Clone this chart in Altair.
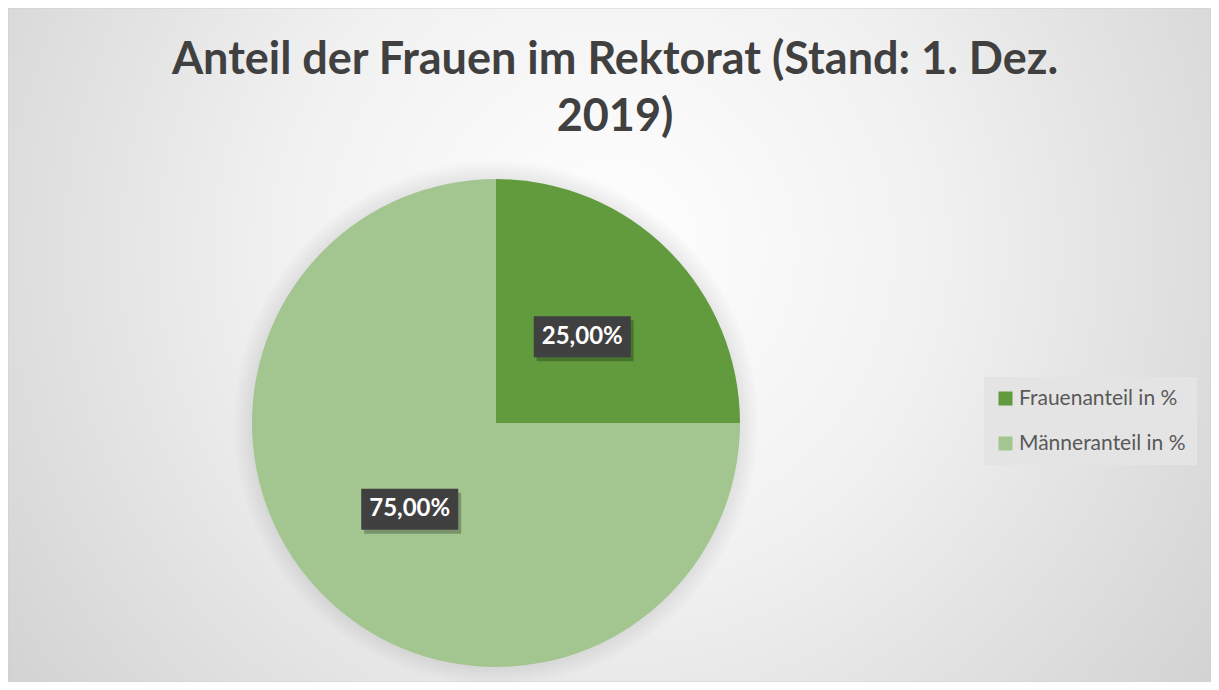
import altair as alt
import pandas as pd

# ---- data ----
categories = ["Frauenanteil in %", "Männeranteil in %"]
values = [25.0, 75.0]
labels = ["25,00%", "75,00%"]
order = [0, 1]
title_lines = ["Anteil der Frauen im Rektorat (Stand: 1. Dez.", "2019)"]
colors = ["#629B3E", "#A3C58F"]

df = pd.DataFrame({"cat": categories, "value": values, "label": labels, "order": order})

W, H = 1203, 674
CX, CY, R = 488, 415, 244
LR = 122
FONT = "Lato"

bg = alt.Chart(alt.Data(values=[{"a": 1}])).mark_rect(
    fill={
        "gradient": "radial",
        "x1": 0.5, "y1": 0.42, "r1": 0.0,
        "x2": 0.5, "y2": 0.42, "r2": 0.78,
        "stops": [
            {"offset": 0.0, "color": "#ffffff"},
            {"offset": 0.35, "color": "#f1f1f1"},
            {"offset": 1.0, "color": "#c4c4c4"},
        ],
    },
    stroke="#d0d0d0",
    strokeWidth=1,
).encode(x=alt.value(0), x2=alt.value(W), y=alt.value(0), y2=alt.value(H))

base = alt.Chart(df)

halo_layers = []
for dr in [3, 6, 9, 12, 15, 18]:
    halo_layers.append(
        base.mark_arc(radius=R + dr, color="#000000", opacity=0.011, strokeWidth=0).encode(
            theta=alt.Theta("value:Q", stack=True),
            order=alt.Order("order:Q"),
            x=alt.value(CX), y=alt.value(CY),
        )
    )

pie = base.mark_arc(radius=R, strokeWidth=0).encode(
    theta=alt.Theta("value:Q", stack=True),
    order=alt.Order("order:Q"),
    color=alt.Color(
        "cat:N",
        scale=alt.Scale(domain=categories, range=colors),
        sort=categories,
        legend=alt.Legend(
            title=None,
            orient="none",
            legendX=976,
            legendY=369,
            fillColor="#e4e4e4",
            padding=11,
            symbolType="square",
            symbolSize=196,
            symbolStrokeWidth=0,
            labelFont=FONT,
            labelFontSize=21,
            labelLimit=400,
            labelColor="#595959",
            labelOffset=3,
            rowPadding=23,
        ),
    ),
    x=alt.value(CX), y=alt.value(CY),
)

lab = base.transform_joinaggregate(total="sum(value)").transform_window(
    cum="sum(value)", sort=[alt.SortField("order")], frame=[None, 0]
).transform_calculate(
    mid="(datum.cum - datum.value/2)/datum.total*2*PI",
).transform_calculate(
    lx=f"{CX} + {LR}*sin(datum.mid)",
    ly=f"{CY} - {LR}*cos(datum.mid)",
)

box_path = "M-1,-0.4227H1V0.4227H-1Z"
shadow_path = "M-0.94,-0.34H1.06V0.505H-0.94Z"

shadow = lab.mark_point(shape=shadow_path, size=9409, filled=True, color="#000000", opacity=0.25, strokeWidth=0).encode(
    x=alt.X("lx:Q", scale=None), y=alt.Y("ly:Q", scale=None)
)
box = lab.mark_point(shape=box_path, size=9409, filled=True, color="#404040", opacity=1, strokeWidth=0).encode(
    x=alt.X("lx:Q", scale=None), y=alt.Y("ly:Q", scale=None)
)
txt = lab.mark_text(font=FONT, fontSize=24, fontWeight="bold", color="#ffffff", baseline="middle", align="center").encode(
    x=alt.X("lx:Q", scale=None), y=alt.Y("ly:Q", scale=None), text="label:N"
)

title = alt.Chart(alt.Data(values=[{"a": 1}])).mark_text(
    font=FONT, fontSize=45, fontWeight="bold", color="#404040",
    align="center", baseline="alphabetic", lineHeight=57,
).encode(x=alt.value(607), y=alt.value(66), text=alt.value(title_lines))

chart = alt.layer(bg, *halo_layers, pie, shadow, box, txt, title).properties(
    width=W, height=H, padding=0, autosize=alt.AutoSizeParams(type="none"),
    background="#ffffff",
).configure_view(stroke=None)

chart.save("out.html", embed_options={"renderer": "svg", "actions": False})
